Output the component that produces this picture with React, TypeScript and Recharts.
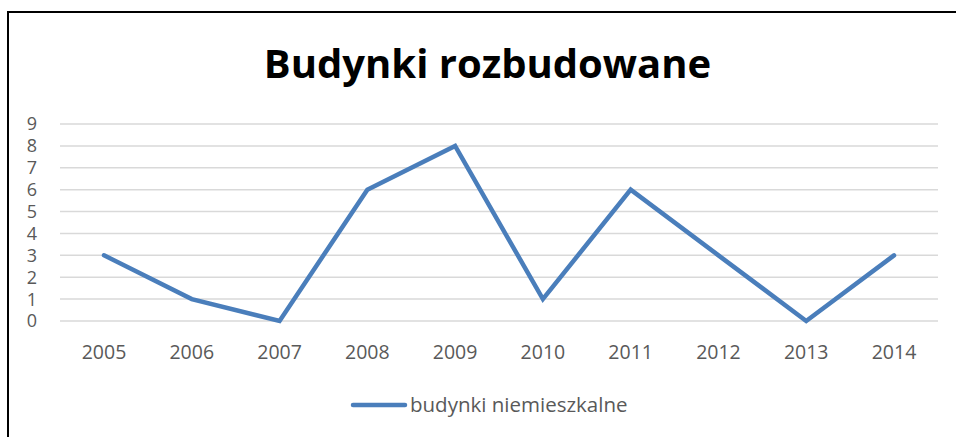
import React from 'react';
import { LineChart, Line, XAxis, YAxis, CartesianGrid, Legend } from 'recharts';

const years = ['2005', '2006', '2007', '2008', '2009', '2010', '2011', '2012', '2013', '2014'];
const nonResidential = [3, 1, 0, 6, 8, 1, 6, 3, 0, 3];
const yTicks = [0, 1, 2, 3, 4, 5, 6, 7, 8, 9];
const seriesName = 'budynki niemieszkalne';
const title = 'Budynki rozbudowane';

const data = years.map((y, i) => ({ year: y, value: nonResidential[i] }));

const LINE_COLOR = '#4A7EBB';
const FONT = '"Open Sans", "Noto Sans", sans-serif';

const LegendContent = () => (
  <div style={{ height: 30, position: 'relative', width: 956 }}>
    <svg width={956} height={30} style={{ position: 'absolute', left: 0, top: 0 }}>
      <line x1={353} y1={15} x2={405} y2={15} stroke={LINE_COLOR} strokeWidth={4.5} strokeLinecap="round" />
      <text x={410} y={15} dy="0.35em" fill="#595959" fontSize={20.5} fontFamily={FONT}>
        {seriesName}
      </text>
    </svg>
  </div>
);

export default function App() {
  return (
    <div style={{ position: 'absolute', left: 0, top: 0, width: 956, height: 437, overflow: 'hidden', background: '#fff' }}>
      <div style={{ position: 'absolute', left: 7, top: 11, width: 1100, height: 600, border: '2px solid #000', boxSizing: 'border-box' }} />
      <svg width={956} height={120} style={{ position: 'absolute', left: 0, top: 0 }}>
        <text x={487.5} y={78} textAnchor="middle" fontSize={40} fontWeight={700} fontFamily={FONT} fill="#000">
          {title}
        </text>
      </svg>
      <div style={{ position: 'absolute', left: 0, top: 0 }}>
        <LineChart width={956} height={437} data={data} margin={{ top: 124, right: 18, bottom: 46, left: 8 }}>
          <CartesianGrid vertical={false} stroke="#D9D9D9" strokeWidth={1.5} />
          <XAxis
            dataKey="year"
            axisLine={false}
            tickLine={false}
            tickSize={0}
            tickMargin={24}
            height={40}
            interval={0}
            padding={{ left: 44, right: 44 }}
            tick={{ fill: '#595959', fontSize: 19.5, fontFamily: FONT }}
          />
          <YAxis
            domain={[0, 9]}
            ticks={yTicks}
            interval={0}
            width={52}
            axisLine={false}
            tickLine={false}
            tickSize={0}
            tickMargin={23}
            tick={{ fill: '#595959', fontSize: 18, fontFamily: FONT }}
          />
          <Legend verticalAlign="bottom" content={<LegendContent />} wrapperStyle={{ left: 0, top: 390, width: 956 }} />
          <Line
            type="linear"
            dataKey="value"
            name={seriesName}
            stroke={LINE_COLOR}
            strokeWidth={4.5}
            strokeLinecap="round"
            dot={false}
            activeDot={false}
            isAnimationActive={false}
          />
        </LineChart>
      </div>
    </div>
  );
}
